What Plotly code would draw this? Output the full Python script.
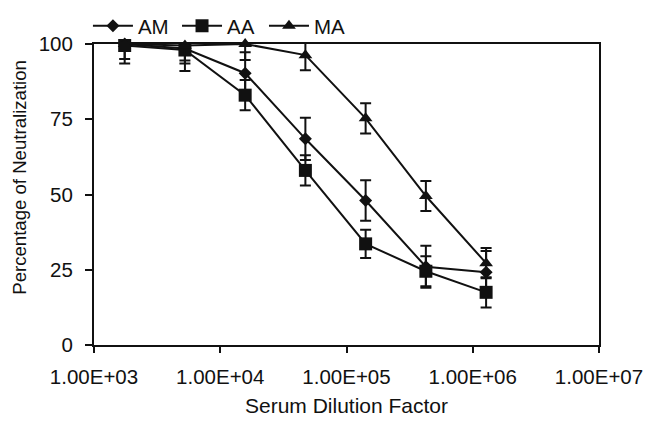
import plotly.graph_objects as go

dilution = [1750, 5250, 15750, 47250, 141750, 425250, 1275750]

am = [100, 98.5, 90.3, 68.5, 48.0, 26.0, 24.2]
am_plus = [0, 1.5, 7, 7, 6.7, 7, 7]
am_minus = [5, 5, 7, 7, 6.7, 7, 7]

aa = [99.5, 98.0, 83.0, 58.0, 33.6, 24.5, 17.5]
aa_plus = [0, 2, 5, 5, 4.7, 5, 5]
aa_minus = [6, 7, 5, 5, 4.7, 5, 5]

ma = [100, 99.5, 100, 96.3, 75.3, 49.5, 27.2]
ma_plus = [0, 0, 0, 5, 5, 5, 5]
ma_minus = [0, 5, 5.3, 5, 5, 5, 5]

x_tickvals = [1e3, 1e4, 1e5, 1e6, 1e7]
x_ticktext = ["1.00E+03", "1.00E+04", "1.00E+05", "1.00E+06", "1.00E+07"]
y_tickvals = [0, 25, 50, 75, 100]

BLACK = "#111111"
FONT = "Liberation Sans, Arial, sans-serif"

fig = go.Figure()

def add(name, y, plus, minus, symbol, size, legend):
    fig.add_trace(go.Scatter(
        x=dilution, y=y, name=name, mode="lines+markers",
        line=dict(color=BLACK, width=2),
        marker=dict(symbol=symbol, size=size, color=BLACK),
        error_y=dict(type="data", symmetric=False, array=plus, arrayminus=minus,
                     color=BLACK, thickness=2, width=5.5),
        cliponaxis=False, legend=legend,
    ))

add("AM", am, am_plus, am_minus, "diamond", 10, "legend")
add("AA", aa, aa_plus, aa_minus, "square", 13, "legend2")
add("MA", ma, ma_plus, ma_minus, "triangle-up", 12, "legend3")

def leg(xpos):
    return dict(orientation="h", x=xpos, xanchor="left", y=1.06, yanchor="middle",
                font=dict(size=20.5, family=FONT, color=BLACK), itemwidth=40,
                bgcolor="rgba(0,0,0,0)")

fig.update_layout(
    width=645, height=421,
    margin=dict(l=94, r=46, t=44, b=76, autoexpand=False),
    paper_bgcolor="white", plot_bgcolor="white",
    font=dict(family=FONT, size=20.5, color=BLACK),
    showlegend=True,
    legend=leg(-0.012),
    legend2=leg(0.1644),
    legend3=leg(0.3366),
    xaxis=dict(type="log", range=[3, 7], tickvals=x_tickvals, ticktext=x_ticktext,
               ticks="outside", ticklen=6, tickwidth=2, tickcolor=BLACK,
               showline=True, linecolor=BLACK, linewidth=2, mirror=True,
               showgrid=False, zeroline=False, tickfont=dict(size=20.5),
               ticklabelstandoff=6,
               title=dict(text="Serum Dilution Factor", standoff=12, font=dict(size=21))),
    yaxis=dict(range=[0, 100], tickvals=y_tickvals,
               ticks="outside", ticklen=7, tickwidth=2, tickcolor=BLACK,
               showline=True, linecolor=BLACK, linewidth=2, mirror=True,
               showgrid=False, zeroline=False, tickfont=dict(size=20.5),
               ticklabelstandoff=8),
    annotations=[dict(text="Percentage of Neutralization", textangle=-90,
                      xref="paper", yref="paper", x=-0.148, y=0.5565,
                      xanchor="center", yanchor="middle", showarrow=False,
                      font=dict(size=18.6, family=FONT, color=BLACK))],
)

fig.write_html("out.html", post_script="document.body.style.margin='0';",
               config={"displayModeBar": False})
